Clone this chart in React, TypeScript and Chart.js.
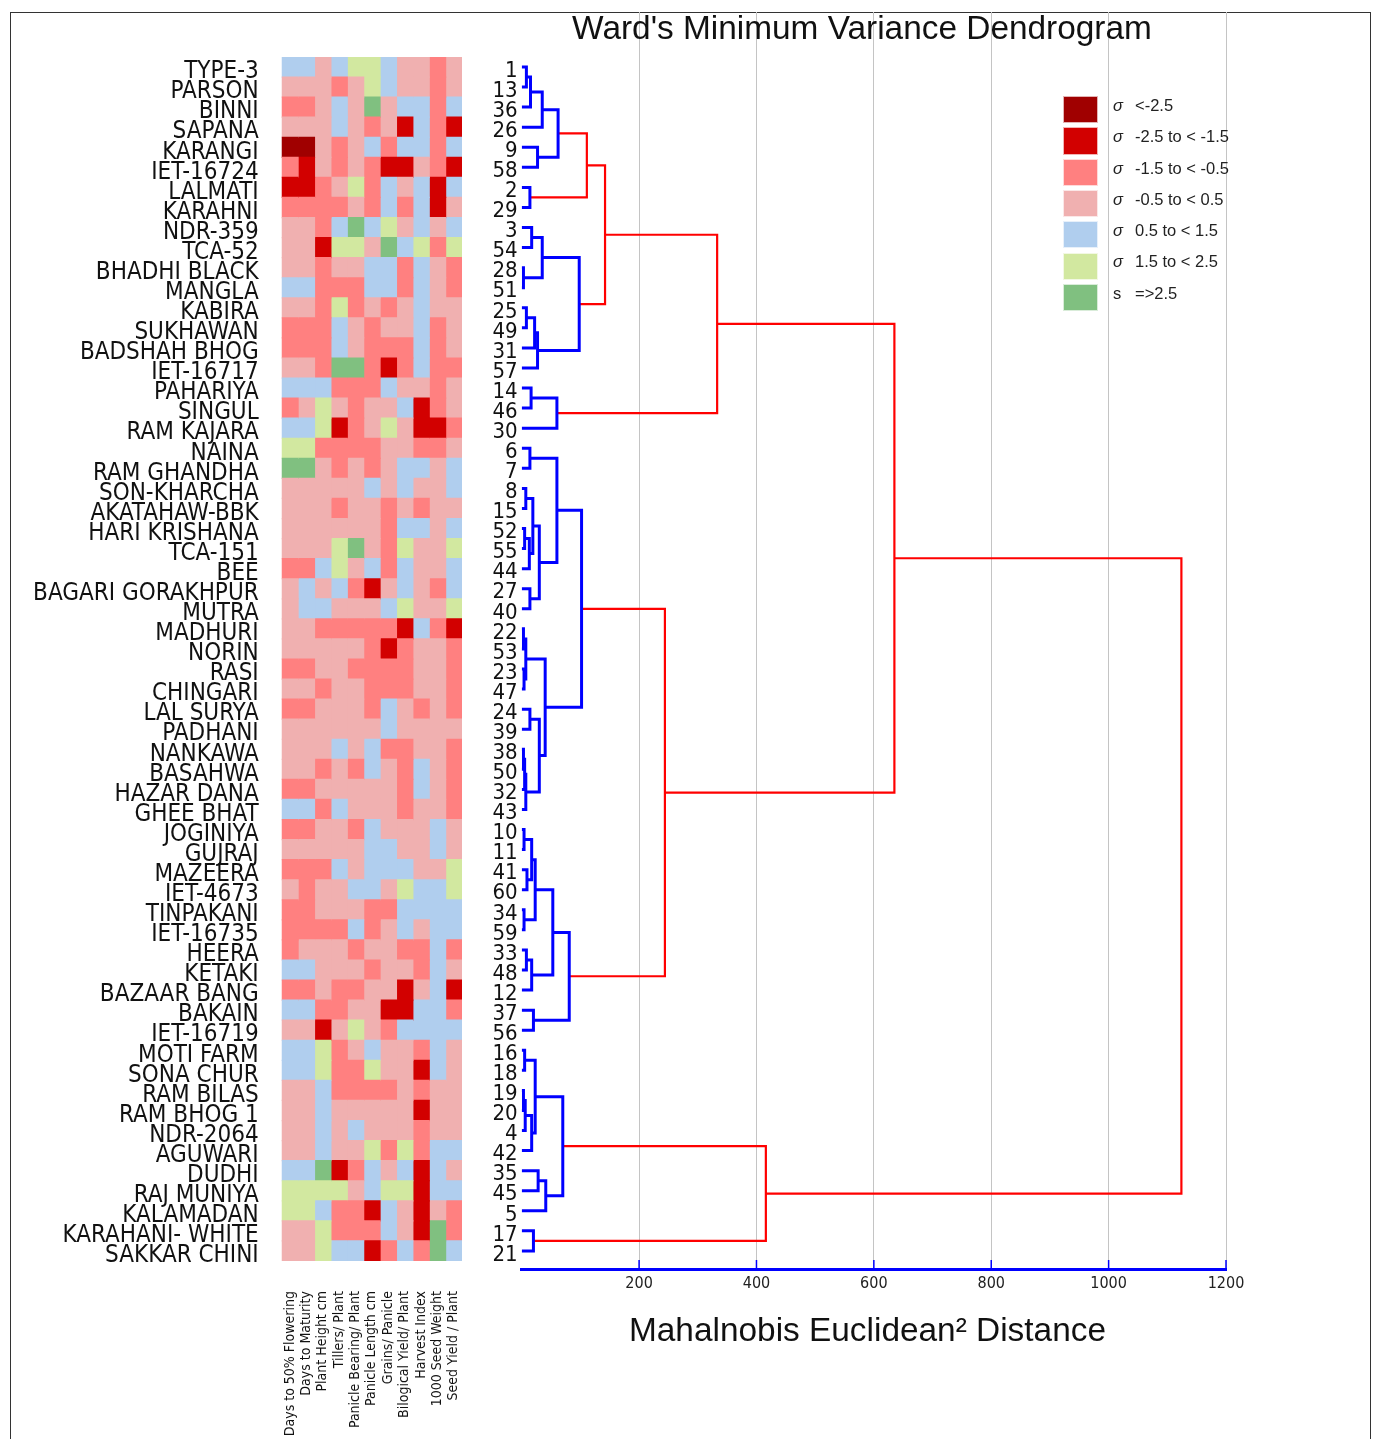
import React, { useEffect, useRef } from "react";
import { Chart, registerables } from "chart.js";

Chart.register(...registerables);

const NARROW = "'DejaVu Sans Condensed', 'Liberation Sans Narrow', 'Arial Narrow', 'Liberation Sans', Arial, sans-serif";
const SANS = "'Liberation Sans', Arial, Helvetica, sans-serif";

// ---------------- data ----------------
const varieties = [
  "TYPE-3", "PARSON", "BINNI", "SAPANA", "KARANGI", "IET-16724", "LALMATI", "KARAHNI", "NDR-359", "TCA-52",
  "BHADHI BLACK", "MANGLA", "KABIRA", "SUKHAWAN", "BADSHAH BHOG", "IET-16717", "PAHARIYA", "SINGUL", "RAM KAJARA", "NAINA",
  "RAM GHANDHA", "SON-KHARCHA", "AKATAHAW-BBK", "HARI KRISHANA", "TCA-151", "BEE", "BAGARI GORAKHPUR", "MUTRA", "MADHURI", "NORIN",
  "RASI", "CHINGARI", "LAL SURYA", "PADHANI", "NANKAWA", "BASAHWA", "HAZAR DANA", "GHEE BHAT", "JOGINIYA", "GUJRAJ",
  "MAZEERA", "IET-4673", "TINPAKANI", "IET-16735", "HEERA", "KETAKI", "BAZAAR BANG", "BAKAIN", "IET-16719", "MOTI FARM",
  "SONA CHUR", "RAM BILAS", "RAM BHOG 1", "NDR-2064", "AGUWARI", "DUDHI", "RAJ MUNIYA", "KALAMADAN", "KARAHANI- WHITE", "SAKKAR CHINI",
];

const traits = [
  "Days to 50% Flowering", "Days to Maturity", "Plant Height cm", "Tillers/ Plant", "Panicle Bearing/ Plant",
  "Panicle Length cm", "Grains/ Panicle", "Bilogical Yield/ Plant", "Harvest Index", "1000 Seed Weight", "Seed Yield / Plant",
];

// sigma class per cell: -3 (<-2.5) ... 0 (-0.5..0.5) ... 3 (>=2.5)
const heat: number[][] = [
  [1, 1, 0, 1, 2, 2, 1, 0, 0, -1, 0],
  [0, 0, 0, -1, 0, 2, 1, 0, 0, -1, 0],
  [-1, -1, 0, 1, 0, 3, 0, 1, 1, -1, 1],
  [0, 0, 0, 1, 0, -1, 0, -2, 1, -1, -2],
  [-3, -3, 0, -1, 0, 1, -1, 1, 1, -1, 1],
  [-1, -2, 0, -1, 0, -1, -2, -2, 0, -1, -2],
  [-2, -2, -1, 0, 2, -1, 1, 0, 1, -2, 1],
  [-1, -1, -1, -1, 0, -1, 1, -1, 1, -2, 0],
  [0, 0, -1, 1, 3, 1, 2, 0, 1, 0, 1],
  [0, 0, -2, 2, 2, 0, 3, 1, 2, -1, 2],
  [0, 0, -1, 0, 0, 1, 1, -1, 1, 0, -1],
  [1, 1, -1, -1, -1, 1, 1, -1, 1, 0, -1],
  [0, 0, -1, 2, -1, 0, -1, 0, 1, 0, 0],
  [-1, -1, -1, 1, 0, -1, 0, 0, 1, -1, 0],
  [-1, -1, -1, 1, 0, -1, -1, -1, 1, -1, 0],
  [0, 0, -1, 3, 3, -1, -2, -1, 1, -1, -1],
  [1, 1, 1, -1, -1, -1, 1, 0, 0, -1, 0],
  [-1, 0, 2, 0, -1, 0, 0, 1, -2, -1, 0],
  [1, 1, 2, -2, -1, 0, 2, 0, -2, -2, -1],
  [2, 2, -1, -1, -1, -1, 0, 0, -1, -1, 0],
  [3, 3, 0, -1, 0, -1, 0, 1, 1, 0, 1],
  [0, 0, 0, 0, 0, 1, 0, 1, 0, 0, 1],
  [0, 0, 0, -1, 0, 0, -1, 0, -1, 0, 0],
  [0, 0, 0, 0, 0, 0, -1, 1, 1, 0, 1],
  [0, 0, 0, 2, 3, 0, -1, 2, 0, 0, 2],
  [-1, -1, 1, 2, 0, 1, -1, 1, 0, 0, 1],
  [0, 1, 0, 1, -1, -2, 0, 1, 0, -1, 1],
  [0, 1, 1, 0, 0, 0, 1, 2, 0, 0, 2],
  [0, 0, -1, -1, -1, -1, -1, -2, 1, -1, -2],
  [0, 0, 0, 0, 0, -1, -2, -1, 0, 0, -1],
  [-1, -1, 0, 0, -1, -1, -1, -1, 0, 0, -1],
  [0, 0, -1, 0, 0, -1, -1, -1, 0, 0, -1],
  [-1, -1, 0, 0, 0, -1, 1, 0, -1, 0, -1],
  [0, 0, 0, 0, 0, 0, 1, 0, 0, 0, 0],
  [0, 0, 0, 1, 0, 1, -1, -1, 0, 0, -1],
  [0, 0, -1, 0, -1, 1, 0, -1, 1, 0, -1],
  [-1, -1, 0, 0, 0, 0, 0, -1, 1, 0, -1],
  [1, 1, -1, 1, 0, 0, 0, -1, 0, 0, -1],
  [-1, -1, 0, 0, -1, 1, 0, 0, 0, 1, 0],
  [0, 0, 0, 0, 0, 1, 1, 0, 0, 1, 0],
  [-1, -1, -1, 1, 0, 1, 1, 1, 0, 0, 2],
  [0, -1, 0, 0, 1, 1, 0, 2, 1, 1, 2],
  [-1, -1, 0, 0, 0, -1, -1, 1, 1, 1, 1],
  [-1, -1, -1, -1, 1, -1, 0, 1, 0, 1, 1],
  [-1, 0, 0, 0, -1, 0, 0, -1, -1, 1, -1],
  [1, 1, 0, 0, 0, -1, 0, 0, -1, 1, 0],
  [-1, -1, 0, -1, -1, 0, 0, -2, 0, 1, -2],
  [1, 1, -1, -1, 0, 0, -2, -2, 1, 1, -1],
  [0, 0, -2, 0, 2, 0, -1, 1, 1, 1, 1],
  [1, 1, 2, -1, 0, 1, 0, 0, -1, 1, 0],
  [1, 1, 2, -1, -1, 2, 0, 0, -2, 1, 0],
  [0, 0, 1, -1, -1, -1, -1, 0, -1, 0, 0],
  [0, 0, 1, 0, 0, 0, 0, 0, -2, 0, 0],
  [0, 0, 1, 0, 1, 0, 0, 0, -1, 0, 0],
  [0, 0, 1, 0, 0, 2, -1, 2, -1, 1, 1],
  [1, 1, 3, -2, -1, 1, 0, 1, -2, 1, 0],
  [2, 2, 2, 2, 0, 1, 2, 2, -2, 1, 1],
  [2, 2, 1, -1, -1, -2, 1, 0, -2, 0, -1],
  [0, 0, 2, -1, -1, -1, 1, 0, -2, 3, -1],
  [0, 0, 2, 1, 1, -2, -1, 1, -1, 3, 1],
];

const sigmaColors = ["#A00000", "#D20000", "#FF8080", "#F0B0B0", "#B0CEEE", "#D2E8A0", "#80C080"];
const legendSymbols = ["σ", "σ", "σ", "σ", "σ", "σ", "s"];
const legendLabels = ["<-2.5", "-2.5 to < -1.5", "-1.5 to < -0.5", "-0.5 to < 0.5", "0.5 to < 1.5", "1.5 to < 2.5", "=>2.5"];

const leafOrder = [
  1, 13, 36, 26, 9, 58, 2, 29, 3, 54, 28, 51, 25, 49, 31, 57, 14, 46, 30,
  6, 7, 8, 15, 52, 55, 44, 27, 40, 22, 53, 23, 47, 24, 39, 38, 50, 32, 43,
  10, 11, 41, 60, 34, 59, 33, 48, 12, 37, 56,
  16, 18, 19, 20, 4, 42, 35, 45, 5, 17, 21,
];

type Ref = number | string;
// [left, right, merge distance]; numbers = leaf labels, "mK" = K-th merge
const merges: [Ref, Ref, number][] = [
  [1, 13, 8], ["m0", 36, 15], ["m1", 26, 35], [9, 58, 27], ["m2", "m3", 62],
  [2, 29, 14], ["m4", "m5", 111], [3, 54, 17], [28, 51, 3], ["m7", "m8", 35],
  [25, 49, 8], ["m10", 31, 22], ["m11", 57, 27], ["m9", "m12", 98], ["m6", "m13", 142],
  [14, 46, 16], ["m15", 30, 60], ["m14", "m16", 333],
  [6, 7, 14], [8, 15, 7], [52, 55, 5], ["m20", 44, 13], ["m19", "m21", 19],
  [27, 40, 14], ["m22", "m23", 30], ["m18", "m24", 60],
  [22, 53, 3], [23, 47, 4], ["m26", "m27", 7], [24, 39, 14], [38, 50, 3],
  ["m30", 32, 5], ["m31", 43, 7], ["m29", "m32", 30], ["m28", "m33", 40], ["m25", "m34", 102],
  [10, 11, 4], [41, 60, 9], ["m36", "m37", 17], [34, 59, 4], ["m38", "m39", 23],
  [33, 48, 8], ["m41", 12, 17], ["m40", "m42", 53], [37, 56, 20], ["m43", "m44", 81],
  ["m35", "m45", 244], ["m17", "m46", 635],
  [16, 18, 5], [19, 20, 3], ["m49", 4, 6], ["m50", 42, 17], ["m48", "m51", 23],
  [35, 45, 28], ["m53", 5, 41], ["m52", "m54", 70], [17, 21, 20], ["m55", "m56", 416],
  ["m47", "m57", 1124],
];
const cutHeight = 105;
const distTicks = [0, 200, 400, 600, 800, 1000, 1200];

// ---------------- helpers ----------------
const zeroPad = (s: any) => {
  s.paddingLeft = 0;
  s.paddingRight = 0;
  s.paddingTop = 0;
  s.paddingBottom = 0;
};

function buildLinks() {
  const pos: Record<string, { x: number; y: number }> = {};
  leafOrder.forEach((l, i) => (pos["L" + l] = { x: 0, y: i }));
  const get = (r: Ref) => (typeof r === "number" ? pos["L" + r] : pos[r]);
  const links: { pts: { x: number; y: number }[]; red: boolean }[] = [];
  merges.forEach(([a, b, h], k) => {
    const A = get(a);
    const B = get(b);
    links.push({
      pts: [
        { x: A.x, y: A.y },
        { x: h, y: A.y },
        { x: h, y: B.y },
        { x: B.x, y: B.y },
      ],
      red: h > cutHeight,
    });
    pos["m" + k] = { x: h, y: (A.y + B.y) / 2 };
  });
  return [...links.filter((l) => !l.red), ...links.filter((l) => l.red)];
}

const tickMarks = {
  id: "tickMarks",
  afterDatasetsDraw(chart: any) {
    const xs = chart.scales.x;
    const ctx = chart.ctx;
    const b = chart.chartArea.bottom;
    ctx.save();
    ctx.strokeStyle = "#0000FF";
    ctx.lineWidth = 1.5;
    distTicks.forEach((v) => {
      if (v === 0) return;
      const px = xs.getPixelForValue(v);
      ctx.beginPath();
      ctx.moveTo(px, b - 9);
      ctx.lineTo(px, b + 1);
      ctx.stroke();
    });
    ctx.restore();
  },
};

export default function App() {
  const heatRef = useRef<HTMLCanvasElement | null>(null);
  const dendRef = useRef<HTMLCanvasElement | null>(null);

  useEffect(() => {
    const heatChart = new Chart(heatRef.current as HTMLCanvasElement, {
      type: "bar",
      data: {
        labels: varieties,
        datasets: traits.map((t, c) => ({
          label: t,
          data: varieties.map(() => 1),
          backgroundColor: heat.map((r) => sigmaColors[r[c] + 3]),
          borderWidth: 0,
          barPercentage: 1,
          categoryPercentage: 1,
          inflateAmount: 0.6,
        })),
      },
      options: {
        indexAxis: "y",
        responsive: true,
        maintainAspectRatio: false,
        animation: false,
        events: [],
        layout: { padding: { top: 45, right: 8, bottom: 0, left: 0 } },
        plugins: { legend: { display: false }, tooltip: { enabled: false }, title: { display: false } },
        scales: {
          x: {
            type: "linear",
            stacked: true,
            min: 0,
            max: traits.length,
            grid: { display: false, drawTicks: false },
            border: { display: false },
            afterBuildTicks: (s: any) => {
              s.ticks = traits.map((_, i) => ({ value: i + 0.5 }));
            },
            ticks: {
              autoSkip: false,
              minRotation: 90,
              maxRotation: 90,
              padding: 30,
              color: "#111",
              font: { family: NARROW, size: 14 },
              callback: (_v: any, i: number) => traits[i],
            },
            afterFit: (s: any) => {
              s.height = 178;
              zeroPad(s);
            },
          },
          y: {
            type: "category",
            stacked: true,
            grid: { display: false, drawTicks: false },
            border: { display: false },
            ticks: {
              autoSkip: false,
              padding: 23,
              labelOffset: 5,
              color: "#111",
              font: { family: NARROW, size: 24 },
            },
            afterFit: (s: any) => {
              s.width = 269.7;
              zeroPad(s);
            },
          },
        },
      } as any,
    });

    const links = buildLinks();
    const dendChart = new Chart(dendRef.current as HTMLCanvasElement, {
      type: "scatter",
      data: {
        datasets: links.map((l) => ({
          data: l.pts,
          showLine: true,
          borderColor: l.red ? "#FF0000" : "#0000FF",
          borderWidth: l.red ? 2.2 : 3,
          pointRadius: 0,
          borderJoinStyle: "miter",
          borderCapStyle: "butt",
          fill: false,
          tension: 0,
        })),
      },
      options: {
        responsive: true,
        maintainAspectRatio: false,
        animation: false,
        events: [],
        layout: { padding: { top: 0, right: 144, bottom: 0, left: 0 } },
        plugins: { legend: { display: false }, tooltip: { enabled: false }, title: { display: false } },
        scales: {
          x: {
            type: "linear",
            min: 0,
            max: 1200,
            afterBuildTicks: (s: any) => {
              s.ticks = distTicks.map((v) => ({ value: v }));
            },
            grid: {
              color: (c: any) => (c.tick && c.tick.value === 0 ? "rgba(0,0,0,0)" : "#C4C4C4"),
              lineWidth: 1,
              drawTicks: false,
            },
            border: { display: true, color: "#0000FF", width: 3 },
            ticks: {
              padding: 5,
              color: "#222",
              font: { family: NARROW, size: 16 },
              callback: (v: any) => (v === 0 ? "" : String(v)),
            },
            afterFit: (s: any) => {
              s.height = 143;
              zeroPad(s);
            },
          },
          y: {
            type: "linear",
            reverse: true,
            min: -2.74,
            max: 59.9,
            afterBuildTicks: (s: any) => {
              s.ticks = leafOrder.map((_, i) => ({ value: i }));
            },
            grid: { display: false, drawTicks: false },
            border: { display: false },
            ticks: {
              autoSkip: false,
              padding: 4,
              labelOffset: 4,
              color: "#111",
              font: { family: NARROW, size: 22 },
              callback: (_v: any, i: number) => String(leafOrder[i]),
            },
            afterFit: (s: any) => {
              s.width = 51.7;
              zeroPad(s);
            },
          },
        },
      } as any,
      plugins: [tickMarks],
    });

    return () => {
      heatChart.destroy();
      dendChart.destroy();
    };
  }, []);

  const abs = (extra: React.CSSProperties): React.CSSProperties => ({ position: "absolute", ...extra });

  return (
    <div>
      <div
        style={{
          position: "fixed",
          left: 0,
          top: 0,
          width: 1375,
          height: 1439,
          overflow: "hidden",
          fontFamily: SANS,
          background: "#fff",
        }}
      >
        <div
          style={abs({
            left: 10,
            top: 12,
            width: 1361,
            height: 1460,
            border: "1px solid #333",
            boxSizing: "border-box",
          })}
        />
        <div style={abs({ left: 12, top: 12, width: 458, height: 1427 })}>
          <canvas ref={heatRef} />
        </div>
        <div style={abs({ left: 470, top: 12, width: 900, height: 1400 })}>
          <canvas ref={dendRef} />
        </div>
        <div
          style={abs({
            left: 462,
            top: 11,
            width: 800,
            textAlign: "center",
            fontSize: 33.4,
            lineHeight: "33px",
            color: "#111",
            whiteSpace: "nowrap",
          })}
        >
          Ward's Minimum Variance Dendrogram
        </div>
        <div
          style={abs({
            left: 467.5,
            top: 1313,
            width: 800,
            textAlign: "center",
            fontSize: 33.4,
            lineHeight: "33px",
            color: "#111",
            whiteSpace: "nowrap",
          })}
        >
          Mahalnobis Euclidean² Distance
        </div>
        {legendLabels.map((lab, i) => (
          <React.Fragment key={lab}>
            <div
              style={abs({
                left: 1062.7,
                top: 96 + 31.3 * i,
                width: 35.6,
                height: 27.3,
                background: sigmaColors[i],
                boxSizing: "border-box",
                border: "1px solid rgba(255,255,255,0.7)",
              })}
            />
            <div
              style={abs({
                left: 1113,
                top: 96.9 + 31.3 * i,
                fontSize: 16.5,
                lineHeight: "16.5px",
                color: "#222",
                fontStyle: legendSymbols[i] === "σ" ? "italic" : "normal",
                whiteSpace: "nowrap",
              })}
            >
              {legendSymbols[i]}
            </div>
            <div
              style={abs({
                left: 1135,
                top: 96.9 + 31.3 * i,
                fontSize: 16.5,
                lineHeight: "16.5px",
                color: "#222",
                whiteSpace: "nowrap",
              })}
            >
              {lab}
            </div>
          </React.Fragment>
        ))}
      </div>
    </div>
  );
}
